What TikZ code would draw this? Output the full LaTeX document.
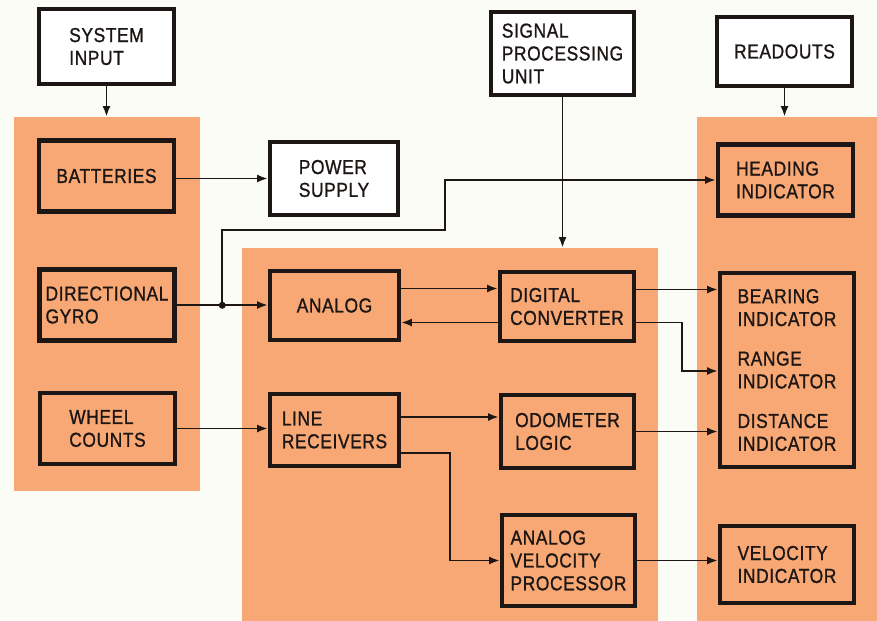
\documentclass[tikz,border=0pt]{standalone}
\usepackage{fontspec}
\setmainfont{Liberation Sans}[FakeStretch=0.86, FakeBold=1, LetterSpace=3]
\usepackage{xcolor}
\usetikzlibrary{arrows.meta, calc}

\definecolor{panelorange}{RGB}{247,168,116}
\definecolor{paper}{RGB}{252,252,246}
\definecolor{ink}{RGB}{28,22,20}

\begin{document}
\begin{tikzpicture}[x=0.02cm, y=-0.02cm, >={Latex[length=6pt,width=4.5pt]},
    panel/.style={fill=panelorange, inner sep=0pt},
    block/.style={draw=ink, line width=2.6pt, fill=panelorange, text=ink, align=left,
      inner sep=2pt, minimum width=2.7cm, minimum height=1.42cm,
      font=\fontsize{11.5}{13}\selectfont},
    title/.style={block, fill=white},
    wire/.style={draw=ink, line width=1.1pt}]

    \useasboundingbox[fill=paper] (0,0) rectangle (877,620);

    \node[panel, minimum width=3.72cm, minimum height=7.48cm] (left)  at (107,304)   {};
    \node[panel, minimum width=8.32cm, minimum height=7.54cm] (mid)   at (450,436.5) {};
    \node[panel, minimum width=3.7cm,  minimum height=10.16cm] (right) at (789.5,371) {};

    \node[title, minimum height=1.5cm] (sysin) at (106.5,46.5) {SYSTEM\\INPUT};
    \node[title, minimum width=2.86cm, minimum height=1.66cm] (spu) at (562.5,53.5) {SIGNAL\\PROCESSING\\UNIT};
    \node[title, minimum height=1.38cm] (readouts) at (784.5,51.5) {READOUTS};
    \node[title, minimum width=2.56cm, minimum height=1.46cm] (power) at (334,178.5) {POWER\\SUPPLY};

    \node[block] (batt)  at (106.5,176) {BATTERIES};
    \node[block] (gyro)  at (107,305)   {DIRECTIONAL\\GYRO};
    \node[block] (wheel) at (107.5,428.5) {WHEEL\\COUNTS};

    \node[block, minimum width=2.58cm, minimum height=1.38cm] (analog)  at (334.5,305.5) {ANALOG};
    \node[block, minimum width=2.58cm, minimum height=1.44cm] (linerec) at (334.5,430)   {LINE\\RECEIVERS};
    \node[block, minimum width=2.68cm, minimum height=1.38cm] (digconv) at (567,306.5)   {DIGITAL\\CONVERTER};
    \node[block, minimum width=2.66cm, minimum height=1.46cm] (odo)     at (567.5,431.5) {ODOMETER\\LOGIC};
    \node[block, minimum width=2.66cm, minimum height=1.82cm] (avp)     at (568.5,560.5) {ANALOG\\VELOCITY\\PROCESSOR};

    \node[block] (heading) at (785.5,180) {HEADING\\INDICATOR};
    \node[block, minimum width=2.68cm, minimum height=3.88cm] (indic) at (787,370)
        {BEARING\\INDICATOR\\[9.5pt]RANGE\\INDICATOR\\[9.5pt]DISTANCE\\INDICATOR};
    \node[block, minimum width=2.68cm, minimum height=1.54cm] (velind) at (787,564.5) {VELOCITY\\INDICATOR};

    \draw[wire,->] (sysin.south) -- (sysin.south |- left.north);
    \draw[wire,->] (spu.south) -- (spu.south |- mid.north);
    \draw[wire,->] (readouts.south) -- (readouts.south |- right.north);

    \draw[wire,->] (batt.east |- power.west) -- (power.west);
    \draw[wire,->] (gyro.east) -- (gyro.east -| analog.west);
    \draw[wire,->] (wheel.east) -- (wheel.east -| linerec.west);

    \coordinate (tap) at ($(gyro.east)!0.5!(analog.west)$);
    \fill[ink] (tap) circle (2pt);
    \draw[wire,->] (tap) -- ++(0,-75) -- ++(223,0) |- (heading.west);

    \draw[wire,->] ($(analog.east)+(0,-17)$) coordinate (anaout) -- (anaout -| digconv.west);
    \draw[wire,->] ($(digconv.west)+(0,16)$) coordinate (dcback) -- (dcback -| analog.east);
    \draw[wire,->] ($(digconv.east)+(0,-17)$) coordinate (dcout) -- (dcout -| indic.west);
    \draw[wire,->] ($(digconv.east)+(0,16)$) -- ++(46,0) |- ($(indic.west)+(0,1)$);

    \draw[wire,->] ($(linerec.east)+(0,-13)$) coordinate (lrout) -- (lrout -| odo.west);
    \draw[wire,->] ($(linerec.east)+(0,23)$) -- ++(49,0) |- (avp.west);
    \draw[wire,->] (odo.east) -- (odo.east -| indic.west);
    \draw[wire,->] (avp.east) -- (avp.east -| velind.west);

\end{tikzpicture}
\end{document}
